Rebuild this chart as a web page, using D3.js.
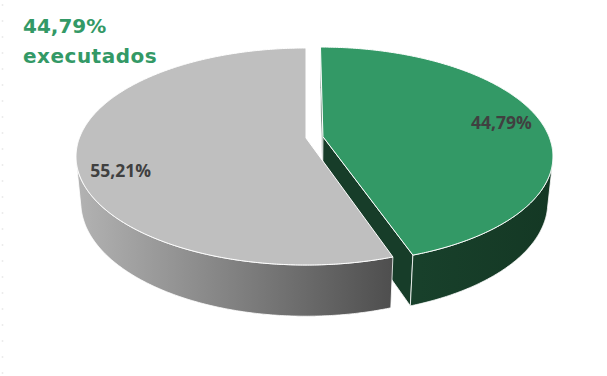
<!DOCTYPE html>
<html>
<head>
<meta charset="utf-8">
<script src="https://cdn.jsdelivr.net/npm/d3@7"></script>
<style>
  body { margin: 0; background: #fff; }
  svg { display: block; }
</style>
</head>
<body>
<svg id="chart" width="607" height="376"></svg>
<script>
// data
var categories = ["executados", "não executados"];
var values = [44.79, 55.21];
var labels = ["44,79%", "55,21%"];
var titleLines = ["44,79%", "executados"];

// styles
var topColors = ["#339966", "#bfbfbf"];
var wallColors = ["#173d29", "#6e6e6e"];
var sideStops = [
  [["0%", "#1b4630"], ["100%", "#143824"]],
  [["0%", "#b3b3b3"], ["55%", "#7c7c7c"], ["100%", "#4e4e4e"]]
];
var explode = [0.076, 0];
var labelR = [0.82, 0.81], labelDy = [0, 19];

var width = 607, height = 376;
var svg = d3.select("#chart");
var defs = svg.append("defs");

// camera (world radius = 1, top face at y=0)
var elev = 27.7 * Math.PI / 180,
    D = 5.19,
    scale = 226.6,
    cx = 306, cy = 138,
    thick = 0.23;
var camPos = [0, D * Math.sin(elev), -D * Math.cos(elev)];

function project(X, Y, Z) {
  var yc = Y * Math.cos(elev) + Z * Math.sin(elev);
  var d = D + Z * Math.cos(elev) - Y * Math.sin(elev);
  var f = D / d;
  return [cx + scale * X * f, cy - scale * yc * f];
}
function facing(P, n) {
  return (P[0]-camPos[0])*n[0] + (P[1]-camPos[1])*n[1] + (P[2]-camPos[2])*n[2] < 0;
}

// faint dotted border at the left
svg.append("line")
  .attr("x1", 2.5).attr("x2", 2.5).attr("y1", 4).attr("y2", height)
  .attr("stroke", "#ececec").attr("stroke-width", 1.5)
  .attr("stroke-dasharray", "2,14");

var arcs = d3.pie().sort(null).value(d => d)(values).map((a, i) => {
  a.i = i;
  a.mid = (a.startAngle + a.endAngle) / 2;
  a.ox = explode[i] * Math.sin(a.mid);
  a.oz = explode[i] * Math.cos(a.mid);
  return a;
});

// far slices first
var order = arcs.slice().sort((a, b) => Math.cos(b.mid) - Math.cos(a.mid));

var line = d3.line();
var step = Math.PI / 360;

order.forEach(a => {
  var g = svg.append("g");
  var rim = (t, Y) => project(a.ox + Math.sin(t), Y, a.oz + Math.cos(t));
  var n = Math.max(2, Math.ceil((a.endAngle - a.startAngle) / step));
  var ts = d3.range(n + 1).map(k => a.startAngle + (a.endAngle - a.startAngle) * k / n);

  // side gradient
  var gid = "side" + a.i;
  var xs = ts.map(t => rim(t, 0)[0]);
  var grad = defs.append("linearGradient").attr("id", gid)
    .attr("gradientUnits", "userSpaceOnUse")
    .attr("x1", d3.min(xs)).attr("x2", d3.max(xs)).attr("y1", 0).attr("y2", 0);
  sideStops[a.i].forEach(s => grad.append("stop").attr("offset", s[0]).attr("stop-color", s[1]));

  // radial walls
  var c0 = [a.ox, 0, a.oz];
  [[a.startAngle, [-Math.cos(a.startAngle), 0, Math.sin(a.startAngle)]],
   [a.endAngle, [Math.cos(a.endAngle), 0, -Math.sin(a.endAngle)]]].forEach(w => {
    if (!facing(c0, w[1])) return;
    var pts = [project(a.ox, 0, a.oz), rim(w[0], 0), rim(w[0], -thick), project(a.ox, -thick, a.oz)];
    g.append("path").attr("d", line(pts) + "Z")
      .attr("fill", wallColors[a.i])
      .attr("stroke", "#fff").attr("stroke-width", 0.8).attr("stroke-linejoin", "round");
  });

  // outer side, visible runs only
  var runs = [], cur = null;
  for (var k = 0; k < n; k++) {
    var tm = (ts[k] + ts[k + 1]) / 2;
    var vis = facing([a.ox + Math.sin(tm), 0, a.oz + Math.cos(tm)], [Math.sin(tm), 0, Math.cos(tm)]);
    if (vis) {
      if (!cur) { cur = [ts[k]]; runs.push(cur); }
      cur.push(ts[k + 1]);
    } else cur = null;
  }
  runs.forEach(r => {
    var pts = r.map(t => rim(t, 0)).concat(r.slice().reverse().map(t => rim(t, -thick)));
    g.append("path").attr("d", line(pts) + "Z")
      .attr("fill", "url(#" + gid + ")")
      .attr("stroke", "#fff").attr("stroke-width", 0.8).attr("stroke-linejoin", "round");
  });

  // top face
  var topPts = [project(a.ox, 0, a.oz)].concat(ts.map(t => rim(t, 0)));
  g.append("path").attr("d", line(topPts) + "Z")
    .attr("fill", topColors[a.i])
    .attr("stroke", "#fff").attr("stroke-width", 1).attr("stroke-linejoin", "round");
});

// data labels
arcs.forEach(a => {
  var p = project(a.ox + labelR[a.i] * Math.sin(a.mid), 0, a.oz + labelR[a.i] * Math.cos(a.mid));
  svg.append("text")
    .attr("x", p[0]).attr("y", p[1] + labelDy[a.i] + 6)
    .attr("text-anchor", "middle")
    .attr("font-family", "'Open Sans', sans-serif")
    .attr("font-weight", "bold")
    .attr("font-size", 17.5)
    .attr("fill", "#404040")
    .text(labels[a.i]);
});

// title
svg.append("g").selectAll("text").data(titleLines).enter().append("text")
  .attr("x", 23)
  .attr("y", (d, i) => 33 + i * 29.5)
  .attr("font-family", "'DejaVu Sans', Verdana, sans-serif")
  .attr("font-weight", "bold")
  .attr("font-size", 20)
  .attr("letter-spacing", (d, i) => i ? 0.5 : 0)
  .attr("fill", "#339966")
  .text(d => d);
</script>
</body>
</html>
